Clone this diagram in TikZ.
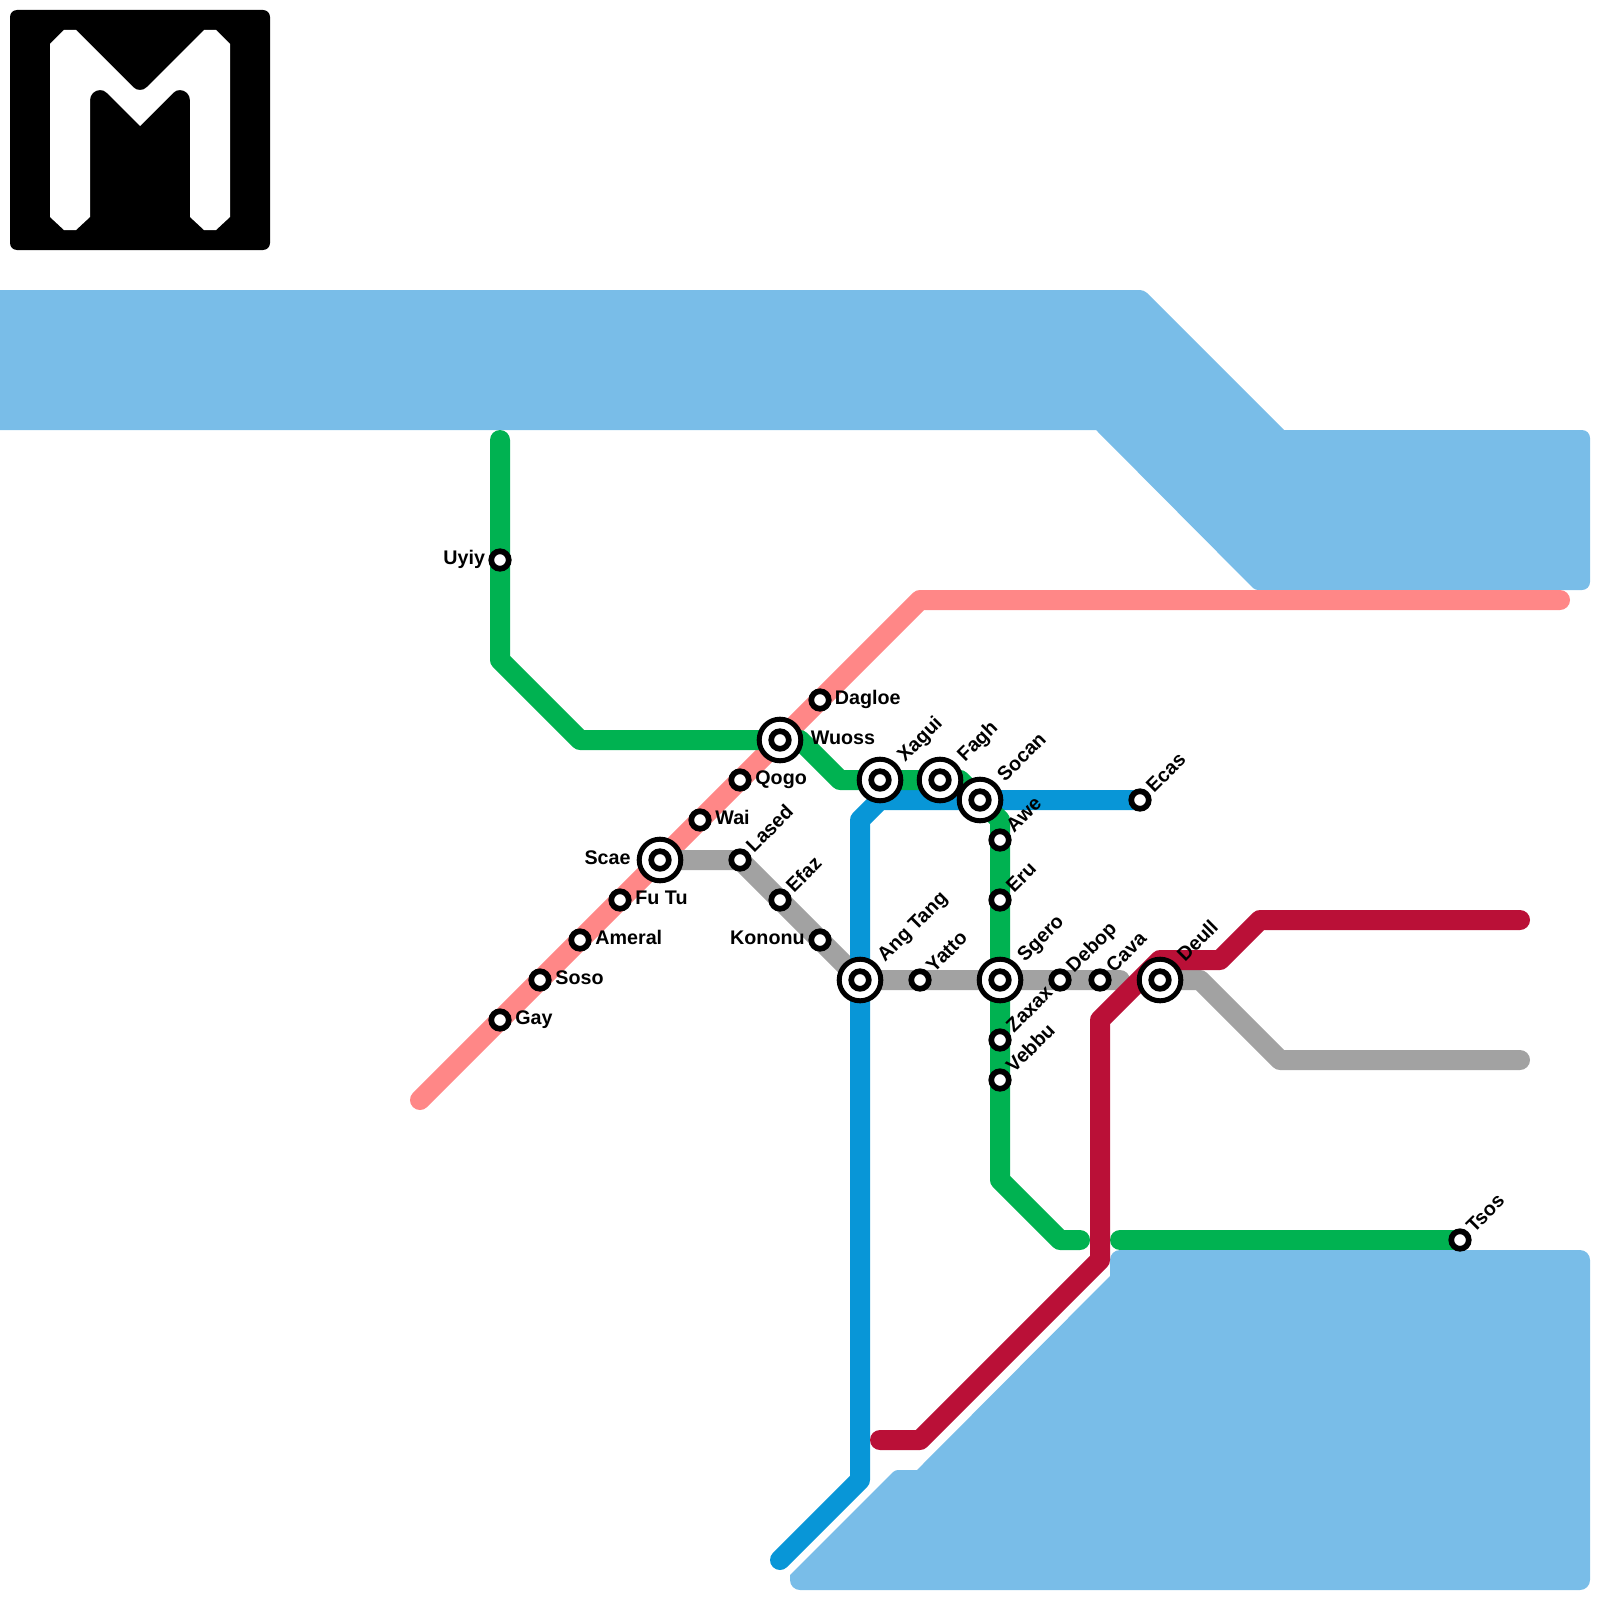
\documentclass[tikz,border=0pt]{standalone}
\usepackage{fontspec}
\setmainfont{Liberation Sans}
\usetikzlibrary{calc}
\pgfdeclarelayer{waterlayer}
\pgfdeclarelayer{lineslayer}
\pgfsetlayers{waterlayer,lineslayer,main}
\definecolor{wat}{HTML}{79BDE8}
\definecolor{lpink}{HTML}{FF8787}
\definecolor{lgreen}{HTML}{00B251}
\definecolor{lblue}{HTML}{0896D7}
\definecolor{lred}{HTML}{BA1037}
\definecolor{lgray}{HTML}{A2A2A2}
\tikzset{
 stn/.style={circle,draw=black,fill=white,line width=2.85pt,minimum size=8.75pt,inner sep=0pt},
 stnbig/.style={circle,draw=black,fill=white,line width=2.5pt,minimum size=20.8pt,inner sep=0pt,
   path picture={\draw[black,line width=2.85pt] (path picture bounding box.center) circle (4.4pt);}},
 lab/.style={font=\bfseries\fontsize{9.85pt}{11pt}\selectfont,inner sep=0pt,text height=7pt,text depth=0pt},
 labw/.style={lab,anchor=west},
 labe/.style={lab,anchor=east},
 labr/.style={lab,anchor=west,rotate=45,xshift=-0.64pt,yshift=-0.64pt},
 metro/.style={line width=10pt,line cap=round,line join=round},
}
\newcommand{\smalls}[3]{\node[stn] (#1) at (#2,#3) {};}
\newcommand{\bigs}[3]{\node[stnbig] (#1) at (#2,#3) {};}
\begin{document}
\begin{tikzpicture}[x=0.5pt,y=-0.5pt]
\useasboundingbox (0,0) rectangle (1600,1600);
% stations
\smalls{uyiy}{500}{560}
\smalls{dagloe}{820}{700}
\bigs{wuoss}{780}{740}
\smalls{qogo}{740}{780}
\smalls{wai}{700}{820}
\bigs{scae}{660}{860}
\smalls{futu}{620}{900}
\smalls{ameral}{580}{940}
\smalls{soso}{540}{980}
\smalls{gay}{500}{1020}
\smalls{lased}{740}{860}
\smalls{efaz}{780}{900}
\smalls{kononu}{820}{940}
\bigs{angtang}{860}{980}
\smalls{yatto}{920}{980}
\bigs{xagui}{880}{780}
\bigs{fagh}{940}{780}
\bigs{socan}{980}{800}
\smalls{awe}{1000}{840}
\smalls{eru}{1000}{900}
\bigs{sgero}{1000}{980}
\smalls{zaxax}{1000}{1040}
\smalls{vebbu}{1000}{1080}
\smalls{debop}{1060}{980}
\smalls{cava}{1100}{980}
\bigs{deull}{1160}{980}
\smalls{ecas}{1140}{800}
\smalls{tsos}{1460}{1240}
% labels
\node[labe] (uyiyL) at (485.5,557) {Uyiy};
\node[labw] (dagloeL) at (834.5,697) {Dagloe};
\node[labw] (wuossL) at (810.5,737) {Wuoss};
\node[labw] (qogoL) at (755,777) {Qogo};
\node[labw] (waiL) at (715,817) {Wai};
\node[labe] (scaeL) at (631,857) {Scae};
\node[labw] (futuL) at (635,897) {Fu Tu};
\node[labw] (ameralL) at (595,937) {Ameral};
\node[labw] (sosoL) at (555,977) {Soso};
\node[labw] (gayL) at (515,1017) {Gay};
\node[labe] (kononuL) at (805,937) {Kononu};
\node[labr] (lasedL) at (749,847) {Lased};
\node[labr] (efazL) at (789,887) {Efaz};
\node[labr] (yattoL) at (929,967) {Yatto};
\node[labr] (aweL) at (1009,827) {Awe};
\node[labr] (eruL) at (1009,887) {Eru};
\node[labr] (zaxaxL) at (1009,1027) {Zaxax};
\node[labr] (vebbuL) at (1009,1067) {Vebbu};
\node[labr] (debopL) at (1069,967) {Debop};
\node[labr] (cavaL) at (1109,967) {Cava};
\node[labr] (ecasL) at (1149,787) {Ecas};
\node[labr] (tsosL) at (1469,1227) {Tsos};
\node[labr] (xaguiL) at (900,756) {Xagui};
\node[labr] (faghL) at (960,756) {Fagh};
\node[labr] (socanL) at (1000,776) {Socan};
\node[labr] (angtangL) at (880,956) {Ang Tang};
\node[labr] (sgeroL) at (1020,956) {Sgero};
\node[labr] (deullL) at (1180,956) {Deull};
% bends and free ends
\coordinate (pa) at (420,1100);
\coordinate (pb) at (920,600);
\coordinate (pc) at (1560,600);
\coordinate (ga) at (500,440);
\coordinate (gb) at (500,660);
\coordinate (gc) at (580,740);
\coordinate (gd) at (800,740);
\coordinate (ge) at (840,780);
\coordinate (gf) at (960,780);
\coordinate (gg) at (1000,820);
\coordinate (gh) at (1000,1180);
\coordinate (gi) at (1060,1240);
\coordinate (gj) at (1080,1240);
\coordinate (gk) at (1120,1240);
\coordinate (ba) at (780,1560);
\coordinate (bb) at (860,1480);
\coordinate (bc) at (860,820);
\coordinate (bd) at (880,800);
\coordinate (ya) at (1120,980);
\coordinate (yb) at (1200,980);
\coordinate (yc) at (1280,1060);
\coordinate (yd) at (1520,1060);
\coordinate (ra) at (880,1440);
\coordinate (rb) at (920,1440);
\coordinate (rc) at (1100,1260);
\coordinate (rd) at (1100,1020);
\coordinate (re) at (1160,960);
\coordinate (rf) at (1220,960);
\coordinate (rg) at (1260,920);
\coordinate (rh) at (1520,920);
\begin{pgfonlayer}{waterlayer}
\fill[wat] (0,290) [rounded corners=2pt] -- (1144,290) [sharp corners] -- (1284,430) [rounded corners=4pt] -- (1590,430) -- (1590,590) [rounded corners=1.5pt] -- (1255,590) [sharp corners] -- (1096,430) -- (0,430) -- cycle;
\fill[wat] (1110,1276) [sharp corners] -- (917,1470) [rounded corners=1.5pt] -- (895,1470) [sharp corners] -- (790,1575) [rounded corners=5pt] -- (790,1590) -- (1590,1590) -- (1590,1250) -- (1110,1250) [sharp corners] -- cycle;
\end{pgfonlayer}
\begin{pgfonlayer}{lineslayer}
\draw[metro,lpink] (pa) -- (gay.center) -- (soso.center) -- (ameral.center) -- (futu.center) -- (scae.center) -- (wai.center) -- (qogo.center) -- (wuoss.center) -- (dagloe.center) -- (pb) -- (pc);
\draw[metro,lgray] (scae.center) -- (lased.center) -- (efaz.center) -- (kononu.center) -- (angtang.center) -- (yatto.center) -- (sgero.center) -- (debop.center) -- (cava.center) -- (ya);
\draw[metro,lgray] (deull.center) -- (yb) -- (yc) -- (yd);
\draw[metro,lblue] (ba) -- (bb) -- (angtang.center) -- (bc) -- (bd) -- (socan.center) -- (ecas.center);
\draw[metro,lgreen] (ga) -- (uyiy.center) -- (gb) -- (gc) -- (wuoss.center) -- (gd) -- (ge) -- (xagui.center) -- (fagh.center) -- (gf) -- (socan.center) -- (gg) -- (awe.center) -- (eru.center) -- (sgero.center) -- (zaxax.center) -- (vebbu.center) -- (gh) -- (gi) -- (gj);
\draw[metro,lgreen] (gk) -- (tsos.center);
\draw[metro,lred] (ra) -- (rb) -- (rc) -- (rd) -- (re) -- (rf) -- (rg) -- (rh);
\end{pgfonlayer}
% logo
\fill[black,rounded corners=3.5pt] (10,10) rectangle (270,250);
\fill[white] (50,44) -- (64,30) -- (76,30) -- (133,87) .. controls (135,89) and (137,90) .. (140,90) .. controls (143,90) and (145,89) .. (147,87) -- (204,30) -- (216,30) -- (230,44) -- (230,217) -- (216,230) -- (204,230) -- (190,217) -- (190,100) .. controls (190,94.5) and (185.5,90) .. (180,90) .. controls (177,90) and (175,91) .. (173,93) -- (140,126) -- (107,93) .. controls (105,91) and (103,90) .. (100,90) .. controls (94.5,90) and (90,94.5) .. (90,100) -- (90,217) -- (76,230) -- (64,230) -- (50,217) -- cycle;
\end{tikzpicture}
\end{document}
